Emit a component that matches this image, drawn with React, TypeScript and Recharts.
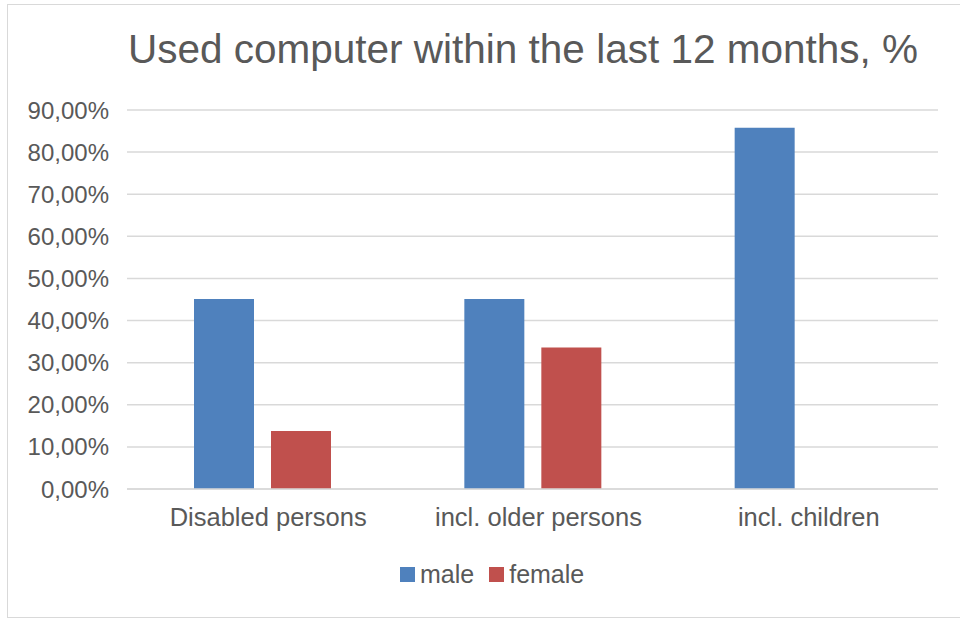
import { BarChart, Bar, XAxis, YAxis, CartesianGrid, Legend } from 'recharts';

const categories = ['Disabled persons', 'incl. older persons', 'incl. children'];
const maleShare = [45.1, 45.1, 85.8];
const femaleShare = [13.8, 33.6, 0];
const yTicks = [0, 10, 20, 30, 40, 50, 60, 70, 80, 90];

const COLORS = {
  male: '#4f81bd',
  female: '#c0504d',
};

const FONT = '"Liberation Sans", Arial, Helvetica, sans-serif';
const TEXT = '#595959';
const GRID = '#d9d9d9';

const data = categories.map((name, i) => ({
  name,
  male: maleShare[i],
  female: femaleShare[i],
}));

// "45,00%" style labels with a decimal comma
const pct = (v: number) => `${v.toFixed(2).replace('.', ',')}%`;

function LegendRow() {
  const items = [
    { key: 'male', color: COLORS.male },
    { key: 'female', color: COLORS.female },
  ];
  return (
    <div style={{ display: 'flex', alignItems: 'center', fontFamily: FONT, fontSize: 25, color: TEXT }}>
      {items.map((it, i) => (
        <div key={it.key} style={{ display: 'flex', alignItems: 'center', marginLeft: i ? 15 : 0 }}>
          <span style={{ width: 15, height: 15, background: it.color, display: 'inline-block', marginRight: 5 }} />
          <span>{it.key}</span>
        </div>
      ))}
    </div>
  );
}

export default function App() {
  return (
    <div
      style={{
        position: 'absolute',
        left: 0,
        top: 0,
        width: 960,
        height: 620,
        overflow: 'hidden',
        background: '#fff',
        fontFamily: FONT,
      }}
    >
      {/* chart frame */}
      <div
        style={{
          position: 'absolute',
          left: 7,
          top: 4,
          width: 980,
          height: 612,
          border: `1.5px solid ${GRID}`,
        }}
      />
      <div
        style={{
          position: 'absolute',
          left: 523 - 450,
          top: 29,
          width: 900,
          textAlign: 'center',
          fontSize: 40.5,
          lineHeight: '40px',
          color: TEXT,
          whiteSpace: 'nowrap',
        }}
      >
        Used computer within the last 12 months, %
      </div>
      <div style={{ position: 'absolute', left: 0, top: 0 }}>
        <BarChart
          width={960}
          height={620}
          data={data}
          margin={{ top: 110, right: 22, left: 0, bottom: 81 }}
          barSize={60}
          barGap={17}
        >
          <CartesianGrid vertical={false} stroke={GRID} strokeWidth={1.5} />
          <XAxis
            dataKey="name"
            height={50}
            interval={0}
            axisLine={{ stroke: GRID, strokeWidth: 1.5 }}
            tickLine={false}
            tickSize={0}
            tickMargin={19}
            tick={{ fill: TEXT, fontSize: 25.5, fontFamily: FONT, dx: 6 }}
          />
          <YAxis
            width={127}
            domain={[0, 90]}
            ticks={yTicks}
            interval={0}
            axisLine={false}
            tickLine={false}
            tickSize={0}
            tickMargin={18}
            tickFormatter={pct}
            tick={{ fill: TEXT, fontSize: 24, fontFamily: FONT }}
          />
          {/* centred/middle keeps the legend from shrinking the plot area */}
          <Legend
            verticalAlign="middle"
            align="center"
            wrapperStyle={{ left: 400, top: 560, width: 300, height: 30 }}
            content={() => <LegendRow />}
          />
          <Bar dataKey="male" fill={COLORS.male} isAnimationActive={false} />
          <Bar dataKey="female" fill={COLORS.female} isAnimationActive={false} />
        </BarChart>
      </div>
    </div>
  );
}
